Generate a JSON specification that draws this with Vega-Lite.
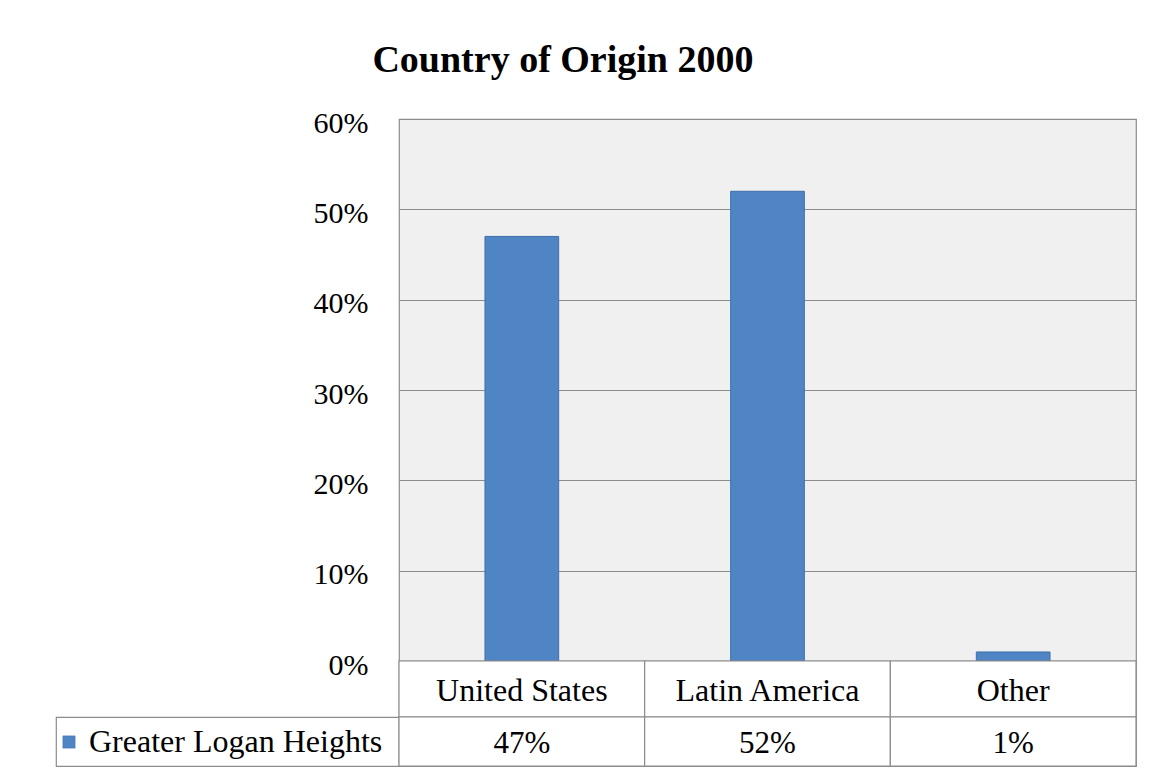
{
  "$schema": "https://vega.github.io/schema/vega-lite/v6.json",
  "autosize": {"type": "pad"},
  "padding": {"left": 55, "top": 42, "right": 15, "bottom": 7},
  "background": "white",
  "title": {
    "text": "Country of Origin 2000",
    "font": "Liberation Serif",
    "fontSize": 38,
    "fontWeight": "bold",
    "color": "black",
    "anchor": "start",
    "baseline": "alphabetic",
    "dx": 317,
    "offset": -3
  },
  "datasets": {
    "origin": [
      {"series": "Greater Logan Heights", "category": "United States", "share": 0.47},
      {"series": "Greater Logan Heights", "category": "Latin America", "share": 0.52},
      {"series": "Greater Logan Heights", "category": "Other", "share": 0.01}
    ],
    "series": [{"series": "Greater Logan Heights"}]
  },
  "columns": 2,
  "spacing": 0,
  "bounds": "flush",
  "align": "each",
  "resolve": {"scale": {"fill": "independent"}, "legend": {"fill": "independent"}},
  "concat": [
    {
      "data": {"values": []},
      "mark": "text",
      "width": 343,
      "height": 542,
      "view": {"stroke": null, "fill": null}
    },
    {
      "data": {"name": "origin"},
      "width": 737,
      "height": 542,
      "view": {"fill": "#f0f0f0", "stroke": "#8c8c8c", "strokeWidth": 1.2},
      "mark": {"type": "bar", "color": "#4f85c5", "stroke": "#3f6fab", "strokeWidth": 1},
      "encoding": {
        "x": {
          "field": "category",
          "type": "nominal",
          "sort": null,
          "scale": {"paddingInner": 0.7, "paddingOuter": 0.35},
          "axis": null
        },
        "y": {
          "field": "share",
          "type": "quantitative",
          "scale": {"domain": [0, 0.6], "nice": false},
          "axis": {
            "values": [0, 0.1, 0.2, 0.3, 0.4, 0.5, 0.6],
            "format": ".0%",
            "title": null,
            "domain": false,
            "ticks": false,
            "grid": true,
            "gridColor": "#8c8c8c",
            "gridWidth": 1.2,
            "gridOpacity": 1,
            "labelFont": "Liberation Serif",
            "labelFontSize": 30,
            "labelColor": "black",
            "labelPadding": 31,
            "labelOffset": 4
          }
        }
      }
    },
    {
      "data": {"values": []},
      "mark": "text",
      "width": 343,
      "height": 56,
      "view": {"stroke": null, "fill": null}
    },
    {
      "data": {"name": "origin"},
      "width": 737,
      "height": 56,
      "view": {"fill": "white", "stroke": "#8c8c8c", "strokeWidth": 1.2},
      "encoding": {
        "x": {
          "field": "category",
          "type": "nominal",
          "sort": null,
          "scale": {"paddingInner": 0, "paddingOuter": 0},
          "axis": null
        }
      },
      "layer": [
        {"mark": {"type": "rect", "fill": "white", "stroke": "#8c8c8c", "strokeWidth": 1.2}},
        {
          "mark": {"type": "text", "font": "Liberation Serif", "fontSize": 32, "color": "black", "baseline": "middle", "dy": 2},
          "encoding": {"text": {"field": "category"}}
        }
      ]
    },
    {
      "data": {"name": "series"},
      "width": 343,
      "height": 49,
      "view": {"fill": "white", "stroke": "#8c8c8c", "strokeWidth": 1.2},
      "mark": {"type": "square", "opacity": 0},
      "encoding": {
        "fill": {
          "field": "series",
          "type": "nominal",
          "scale": {"range": ["#4f85c5"]},
          "legend": {
            "orient": "top-left",
            "offset": 9,
            "padding": 0,
            "title": null,
            "symbolType": "square",
            "symbolSize": 150,
            "symbolOffset": -12,
            "symbolOpacity": 1,
            "symbolStrokeColor": "#3f6fab",
            "symbolStrokeWidth": 0.5,
            "labelFont": "Liberation Serif",
            "labelFontSize": 32,
            "labelColor": "black",
            "labelOffset": 4,
            "labelLimit": 400
          }
        }
      }
    },
    {
      "data": {"name": "origin"},
      "width": 737,
      "height": 49,
      "view": {"fill": "white", "stroke": "#8c8c8c", "strokeWidth": 1.2},
      "encoding": {
        "x": {
          "field": "category",
          "type": "nominal",
          "sort": null,
          "scale": {"paddingInner": 0, "paddingOuter": 0},
          "axis": null
        }
      },
      "layer": [
        {"mark": {"type": "rect", "fill": "white", "stroke": "#8c8c8c", "strokeWidth": 1.2}},
        {
          "mark": {"type": "text", "font": "Liberation Serif", "fontSize": 31, "color": "black", "baseline": "middle", "dy": 2},
          "encoding": {"text": {"field": "share", "format": ".0%"}}
        }
      ]
    }
  ]
}
